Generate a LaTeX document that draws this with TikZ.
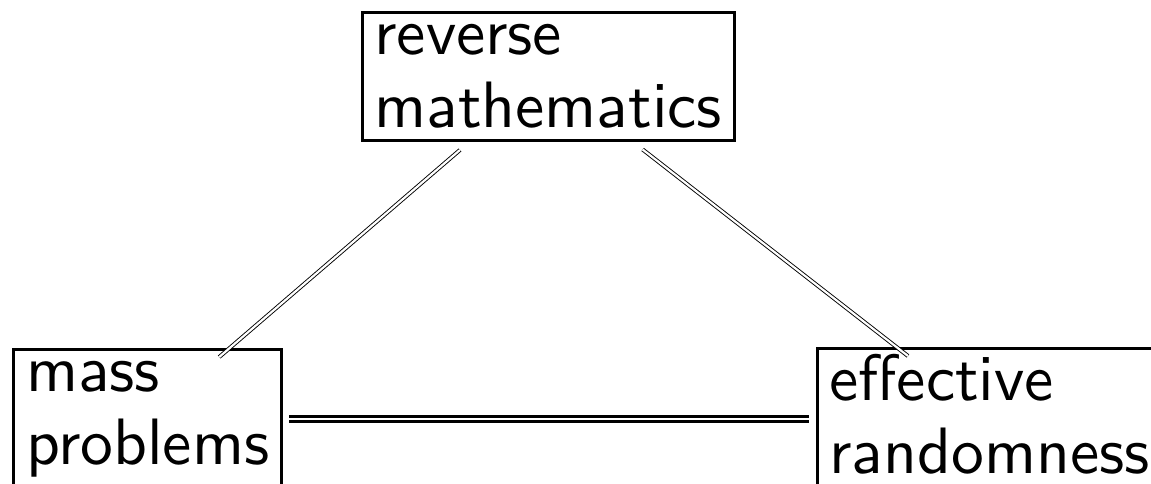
\documentclass[tikz,border=0pt]{standalone}
\usepackage{fontspec}
\newfontfamily\topicfont{lmsans10-regular.otf}
\usepackage{tikz}
\usetikzlibrary{positioning, calc}

\tikzset{
  topic/.style={draw, line width=1.5pt, outer sep=0pt, align=left, inner xsep=6.25pt, inner ysep=6pt,
    font=\topicfont\fontsize{32.8}{36.5}\selectfont},
  thin link/.style={double, line width=0.45pt, double distance=1.1pt},
  thick link/.style={double, line width=1.25pt, double distance=1.3pt}
}

\begin{document}
\begin{tikzpicture}[x=0.5pt, y=-0.5pt]
  \useasboundingbox (0,0) rectangle (1151,483);
  \clip (0,0) rectangle (1151,483);

  \node[topic, anchor=north west] (rev) at (362,12.5) {reverse\\mathematics};
  \node[topic, anchor=north west] (mass) at (13.5,349) {mass\\problems};
  \node[topic, anchor=north west, inner ysep=3pt, text width=160pt] (rand) at (817,348.5) {effective\\randomness\strut};

  \draw[thin link] ([shift={(98,9.5)}]rev.south west) -- ([shift={(-62.5,8)}]mass.north east);
  \draw[thin link] ([shift={(-92,9)}]rev.south east) -- ([shift={(91,7.5)}]rand.north west);
  \draw[thick link, shorten <=3.75pt, shorten >=4pt] (mass.east) -- (mass.east -| rand.west);
\end{tikzpicture}
\end{document}
